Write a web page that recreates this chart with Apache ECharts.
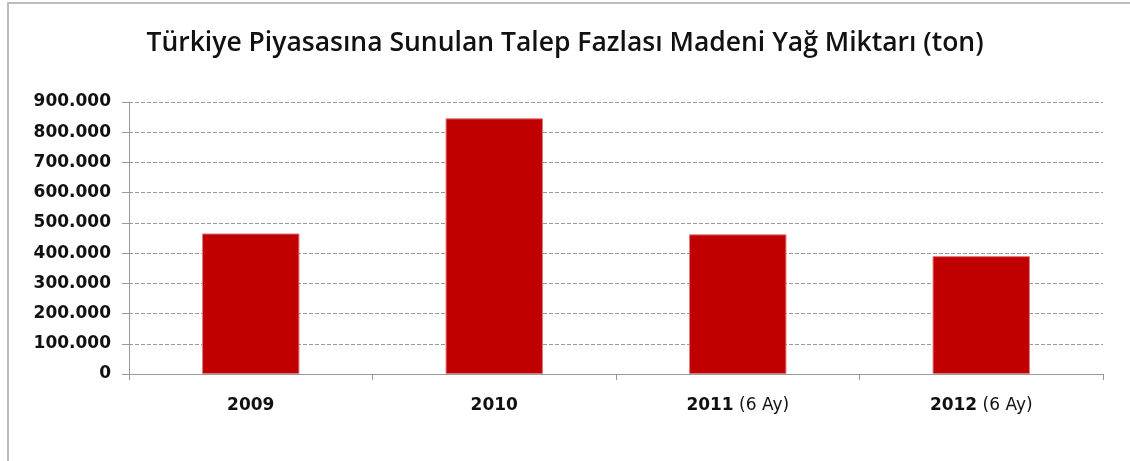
<!DOCTYPE html>
<html>
<head>
<meta charset="utf-8">
<script src="https://cdn.jsdelivr.net/npm/echarts@6/dist/echarts.min.js"></script>
<style>
  html, body { margin: 0; padding: 0; background: #fff; }
  #wrap { position: relative; width: 1130px; height: 461px; }
  #frame { position: absolute; left: 7px; top: 2px; right: 0; bottom: 0;
           border-left: 2px solid #bdbdbd; border-top: 2px solid #bdbdbd; }
  #chart { position: absolute; left: 0; top: 0; width: 1130px; height: 461px; }
</style>
</head>
<body>
<div id="wrap">
  <div id="frame"></div>
  <div id="chart"></div>
</div>
<script>
  // veriler (ton)
  const categories = ['2009', '2010', '2011 (6 Ay)', '2012 (6 Ay)'];
  const values = [465000, 846000, 462000, 390000];
  const yTicks = { min: 0, max: 900000, interval: 100000 };

  const titleFont = '"Open Sans", "Liberation Sans", sans-serif';
  const labelFont = '"DejaVu Sans", "Liberation Sans", sans-serif';

  function fmtNumber(v) {
    // 900000 -> 900.000
    return String(v).replace(/\B(?=(\d{3})+(?!\d))/g, '.');
  }

  const chart = echarts.init(document.getElementById('chart'));
  const option = {
    animation: false,
    title: {
      text: 'Türkiye Piyasasına Sunulan Talep Fazlası Madeni Yağ Miktarı (ton)',
      left: 'center',
      top: 25,
      textStyle: { fontFamily: titleFont, fontSize: 26.5, fontWeight: 600, color: '#111' }
    },
    grid: { left: 129, right: 27, top: 102, bottom: 87 },
    xAxis: {
      type: 'category',
      data: categories,
      axisLine: { lineStyle: { color: '#9a9a9a', width: 1 } },
      axisTick: { show: true, length: 6, lineStyle: { color: '#9a9a9a' } },
      axisLabel: {
        margin: 23,
        formatter: function(v) {
          const i = v.indexOf(' ');
          if (i < 0) return '{b|' + v + '}';
          return '{b|' + v.slice(0, i) + '}{n|' + v.slice(i) + '}';
        },
        rich: {
          b: { fontFamily: labelFont, fontSize: 17, fontWeight: 'bold', color: '#111' },
          n: { fontFamily: labelFont, fontSize: 17, fontWeight: 'normal', color: '#111' }
        }
      }
    },
    yAxis: {
      type: 'value',
      min: yTicks.min,
      max: yTicks.max,
      interval: yTicks.interval,
      axisLine: { show: true, lineStyle: { color: '#9a9a9a', width: 1 } },
      axisTick: { show: true, length: 7, inside: false, lineStyle: { color: '#9a9a9a' } },
      axisLabel: {
        margin: 18,
        formatter: fmtNumber,
        fontFamily: labelFont, fontSize: 17, fontWeight: 'bold', color: '#111'
      },
      splitLine: { lineStyle: { color: '#9a9a9a', type: [4, 2], width: 1 } }
    },
    series: [{
      type: 'bar',
      data: values,
      barWidth: '40%',
      itemStyle: { color: '#c00000', borderColor: '#e07a7a', borderWidth: 1 }
    }]
  };
  chart.setOption(option);
</script>
</body>
</html>
